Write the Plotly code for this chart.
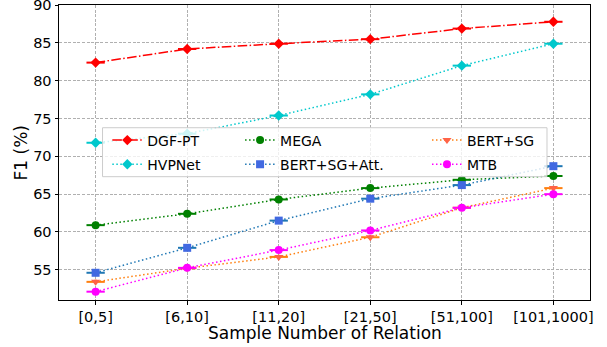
import plotly.graph_objects as go

categories = ["[0,5]", "[6,10]", "[11,20]", "[21,50]", "[51,100]", "[101,1000]"]
dgf_pt = [82.4, 84.2, 84.9, 85.5, 86.9, 87.8]
hvpnet = [71.8, 73.0, 75.4, 78.2, 82.0, 84.9]
mega = [60.9, 62.4, 64.3, 65.8, 66.9, 67.4]
bert_sg_att = [54.6, 57.9, 61.5, 64.4, 66.2, 68.7]
bert_sg = [53.4, 55.2, 56.7, 59.3, 63.2, 65.8]
mtb = [52.1, 55.25, 57.6, 60.2, 63.2, 65.0]
x_err = [0.1, 0.1, 0.1, 0.1, 0.1, 0.1]
y_err = [0.3, 0.3, 0.3, 0.3, 0.3, 0.3]
y_ticks = [55, 60, 65, 70, 75, 80, 85, 90]

xs = list(range(len(categories)))

series = [
    # name, values, line color, marker color, symbol, dash, legend, rank
    ("DGF-PT", dgf_pt, "#ff0000", "#ff0000", "diamond", "9.6px,2.4px,1.5px,2.4px", "legend", 1),
    ("HVPNet", hvpnet, "#00c8cc", "#00c8cc", "diamond", "1.5px,2.5px", "legend", 2),
    ("MEGA", mega, "#008000", "#008000", "circle", "1.5px,2.5px", "legend2", 3),
    ("BERT+SG+Att.", bert_sg_att, "#1f77b4", "#4169e1", "square", "1.5px,2.5px", "legend2", 4),
    ("BERT+SG", bert_sg, "#ff7f0e", "#ff6347", "triangle-down", "1.5px,2.5px", "legend3", 5),
    ("MTB", mtb, "#ff00ff", "#ff00ff", "circle", "1.5px,2.5px", "legend3", 6),
]

fig = go.Figure()
for name, vals, lc, mc, sym, dash, leg, rank in series:
    fig.add_trace(go.Scatter(
        x=xs, y=vals, name=name, mode="lines+markers",
        line=dict(color=lc, width=1.5, dash=dash),
        marker=dict(color=mc, symbol=sym, size=8, line=dict(width=0)),
        error_x=dict(type="data", array=x_err, color=lc, thickness=2, width=0, visible=True),
        error_y=dict(type="data", array=y_err, color=mc, thickness=2, width=0, visible=True),
        legend=leg, legendrank=rank, legendgroup=name,
    ))

font = "DejaVu Sans"
legend_common = dict(
    bgcolor="rgba(0,0,0,0)", borderwidth=0, font=dict(family=font, size=14, color="black"),
    xanchor="left", yanchor="top", y=0.595, tracegroupgap=3, orientation="v",
)

fig.update_layout(
    width=607, height=347,
    margin=dict(l=59, r=17, t=5, b=47, autoexpand=False),
    paper_bgcolor="white", plot_bgcolor="white",
    font=dict(family=font, size=14.5, color="black"),
    showlegend=True,
    legend=dict(x=0.091, **legend_common),
    legend2=dict(x=0.341, **legend_common),
    legend3=dict(x=0.693, **legend_common),
    shapes=[dict(
        type="rect", xref="paper", yref="paper", x0=0.082, x1=0.919, y0=0.418, y1=0.584,
        fillcolor="rgba(255,255,255,0.8)", line=dict(color="#cccccc", width=1), layer="above",
    )],
    annotations=[
        dict(text="Sample Number of Relation", xref="paper", yref="paper", x=0.5, y=-0.112,
             xanchor="center", yanchor="middle", showarrow=False, font=dict(size=17)),
        dict(text="F1 (%)", xref="paper", yref="paper", x=-0.0716, y=0.5, textangle=-90,
             xanchor="center", yanchor="middle", showarrow=False, font=dict(size=17)),
    ],
)

fig.update_xaxes(
    range=[-0.4, 5.4], tickmode="array", tickvals=xs, ticktext=categories,
    showgrid=True, gridcolor="#b0b0b0", griddash="3px,1.6px", gridwidth=0.8,
    showline=True, linecolor="black", linewidth=1, mirror=True,
    ticks="outside", ticklen=3.5, tickcolor="black", zeroline=False,
    tickfont=dict(size=14.5), automargin=False, ticklabeloverflow="allow",
)
fig.update_yaxes(
    range=[51, 90.02], tickmode="array", tickvals=y_ticks,
    showgrid=True, gridcolor="#b0b0b0", griddash="3px,1.6px", gridwidth=0.8,
    showline=True, linecolor="black", linewidth=1, mirror=True,
    ticks="outside", ticklen=3.5, tickcolor="black", zeroline=False,
    tickfont=dict(size=14.5), automargin=False, ticklabeloverflow="allow",
)

fig.write_html(
    "out.html",
    config={"displayModeBar": False},
    post_script="document.body.style.margin='0';document.body.style.overflow='hidden';",
)
